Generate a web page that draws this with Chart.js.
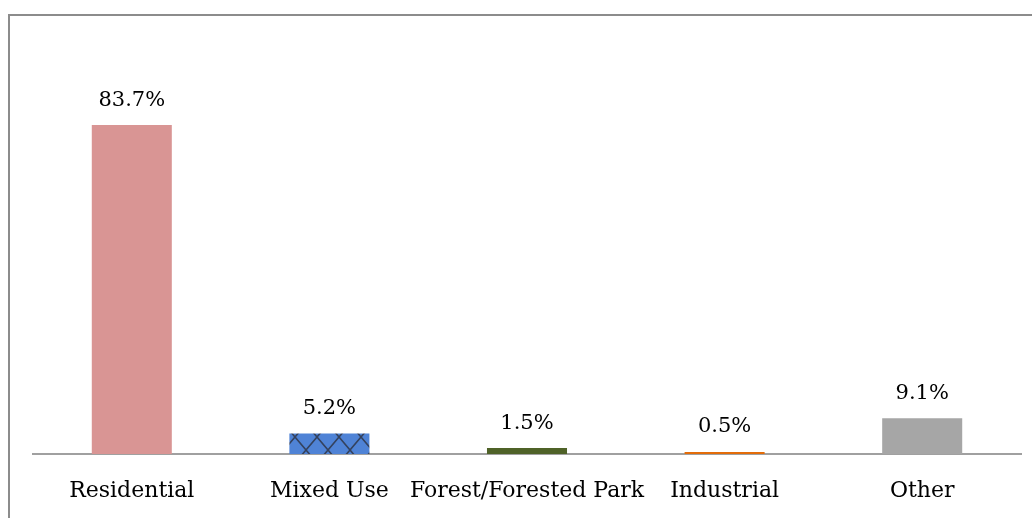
<!DOCTYPE html>
<html>
<head>
<meta charset="utf-8">
<script src="https://cdn.jsdelivr.net/npm/chart.js@4/dist/chart.umd.min.js"></script>
<style>
  html, body { margin: 0; padding: 0; background: #fff; }
  #wrap { position: relative; width: 1032px; height: 518px; overflow: hidden; }
  #frame { position: absolute; left: 8px; top: 14px; width: 1100px; height: 600px;
           border-left: 2px solid #8c8c8c; border-top: 2px solid #8c8c8c; }
  canvas { position: absolute; left: 0; top: 0; }
</style>
</head>
<body>
<div id="wrap">
  <div id="frame"></div>
  <canvas id="landUseChart" width="1032" height="518"></canvas>
</div>
<script>
// land use shares (%)
const categories = ['Residential', 'Mixed Use', 'Forest/Forested Park', 'Industrial', 'Other'];
const shares = [83.7, 5.2, 1.5, 0.5, 9.1];
const valueLabels = ['83.7%', '5.2%', '1.5%', '0.5%', '9.1%'];

const FONT = '"DejaVu Serif", "Liberation Serif", serif';

// blue bar with dark lattice lines
const makeLattice = () => {
    const c = document.createElement('canvas');
    c.width = 22;
    c.height = 26;
    const g = c.getContext('2d');
    g.fillStyle = '#4f83d6';
    g.fillRect(0, 0, c.width, c.height);
    g.strokeStyle = '#34425e';
    g.lineWidth = 1.6;
    g.beginPath();
    g.moveTo(-2, -2.36); g.lineTo(24, 28.36);
    g.moveTo(24, -2.36); g.lineTo(-2, 28.36);
    g.stroke();
    const ctx = document.getElementById('landUseChart').getContext('2d');
    const p = ctx.createPattern(c, 'repeat');
    p.setTransform(new DOMMatrix().translate(9, 21));
    return p;
};

const barColours = ['#d99594', makeLattice(), '#4f6228', '#e36c09', '#a6a6a6'];

const valueLabelPlugin = {
    id: 'valueLabels',
    afterDatasetsDraw(chart) {
        const ctx = chart.ctx;
        const meta = chart.getDatasetMeta(0);
        ctx.save();
        ctx.font = '21px ' + FONT;
        ctx.fillStyle = '#000';
        ctx.textAlign = 'center';
        ctx.textBaseline = 'middle';
        meta.data.forEach((bar, i) => {
            ctx.fillText(valueLabels[i], bar.x, bar.y - 25);
        });
        ctx.restore();
    }
};

new Chart(document.getElementById('landUseChart'), {
    type: 'bar',
    data: {
        labels: categories,
        datasets: [{
            data: shares,
            backgroundColor: barColours,
            borderWidth: 0,
            barPercentage: 0.405,
            categoryPercentage: 1
        }]
    },
    options: {
        responsive: false,
        animation: false,
        layout: { padding: { left: 33, right: 11, top: 61, bottom: 0 } },
        plugins: { legend: { display: false }, tooltip: { enabled: false } },
        scales: {
            x: {
                grid: { display: false, drawTicks: false },
                border: { display: true, color: '#a0a0a0', width: 2 },
                ticks: {
                    color: '#000',
                    padding: 24,
                    autoSkip: false,
                    maxRotation: 0,
                    font: { family: FONT, size: 22 }
                },
                afterFit(scale) { scale.height = 64; }
            },
            y: {
                display: false,
                min: 0,
                max: 100
            }
        }
    },
    plugins: [valueLabelPlugin]
});
</script>
</body>
</html>
